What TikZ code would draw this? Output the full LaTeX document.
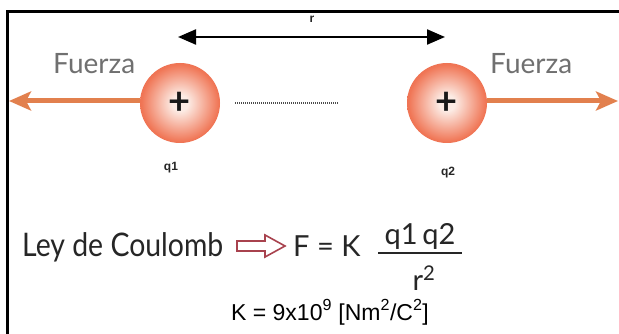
\documentclass[tikz,border=0pt]{standalone}
\usepackage{fontspec}
\setmainfont{Lato}
\newfontfamily\arialf{Liberation Sans}
\usetikzlibrary{arrows.meta}
\definecolor{forcec}{HTML}{E2804E}
\definecolor{fuerzac}{HTML}{707070}
\definecolor{hollowc}{HTML}{A8424E}
\definecolor{cin}{HTML}{FCEBE4}
\definecolor{cmid}{HTML}{F07656}
\definecolor{cout}{HTML}{D9432A}
\pgfdeclareradialshading{chargeball}{\pgfpoint{0bp}{0bp}}{color(0bp)=(cin); color(5bp)=(cin); color(24bp)=(cmid); color(50bp)=(cout); color(70bp)=(cout)}
\begin{document}
\begin{tikzpicture}[x=1pt,y=-1pt,
  charge/.style={circle, minimum size=80pt, inner sep=0pt, shading=chargeball, text=black!90, font=\bfseries\fontsize{38}{38}\selectfont},
  forcearrow/.style={draw=forcec, line width=5pt, -{Stealth[length=22pt,width=19pt,inset=5pt]}},
  fuerzalabel/.style={text=fuerzac, font=\fontsize{28}{30}\selectfont, inner sep=0pt},
  qlabel/.style={text=black!85, font=\arialf\bfseries\fontsize{12}{12}\selectfont, inner sep=0pt},
  formula/.style={font=\fontsize{29}{30}\selectfont, inner sep=0pt, text=black!85},
  distarrow/.style={draw=black, line width=2.2pt, {Triangle[length=18pt,width=15pt]}-{Triangle[length=18pt,width=15pt]}},
  frame/.style={draw=black, line width=3pt},
  hollow/.style={draw=hollowc, line width=1.6pt, fill=white, line join=miter}
]
\useasboundingbox (0,0) rectangle (619,334);
\fill[white] (0,0) rectangle (619,334);
% frame
\coordinate (fl) at (7,334);
\coordinate (ftl) at (7,12);
\coordinate (ftr) at (619,12);
\draw[frame] (fl) -- (ftl) -- (ftr);
% distance arrow
\coordinate (ra) at (178,37);
\coordinate (rb) at (445,37);
\draw[distarrow] (ra) -- (rb);
\node[qlabel] (rlab) at (312,19) {r};
% charges
\node[charge] (c1) at (180,103) {+};
\node[charge] (c2) at (447,103) {+};
\node[qlabel] (q1) at (171,168) {q1};
\node[qlabel] (q2) at (448,173) {q2};
% dotted line
\coordinate (d1) at (235,103);
\coordinate (d2) at (338,103);
\draw[black!70, line width=1.2pt, dash pattern=on 1pt off 1pt] (d1) -- (d2);
% forces
\coordinate (fa) at (9,101);
\coordinate (fb) at (618,101);
\draw[forcearrow] (c1.west |- fa) -- (fa);
\draw[forcearrow] (c2.east |- fb) -- (fb);
\node[fuerzalabel, anchor=west] (fz1) at (53,64) {Fuerza};
\node[fuerzalabel, anchor=west] (fz2) at (490,64) {Fuerza};
% formula
\node[formula, anchor=base west] (ley) at (22,256) {\scalebox{0.98}[1.12]{Ley de Coulomb}};
\coordinate (ha) at (237,246);
\draw[hollow] (ha) ++(0,-5) -- ++(28,0) -- ++(0,-6) -- ++(20,11) -- ++(-20,11) -- ++(0,-6) -- ++(-28,0) -- cycle;
\node[formula, anchor=base west] (feq) at (293,256) {F = K};
\node[formula, anchor=base] (num) at (420,244) {q1\,q2};
\node[formula, anchor=base] (den) at (424,290) {r\textsuperscript{2}};
\coordinate (bar1) at (378,253);
\coordinate (bar2) at (462,253);
\draw[black!85, line width=1.6pt] (bar1) -- (bar2);
% constant
\node[anchor=base, inner sep=0pt, font=\arialf\fontsize{23}{24}\selectfont] (kconst) at (330,320) {K = 9x10\textsuperscript{9} [Nm\textsuperscript{2}/C\textsuperscript{2}]};
\end{tikzpicture}
\end{document}
